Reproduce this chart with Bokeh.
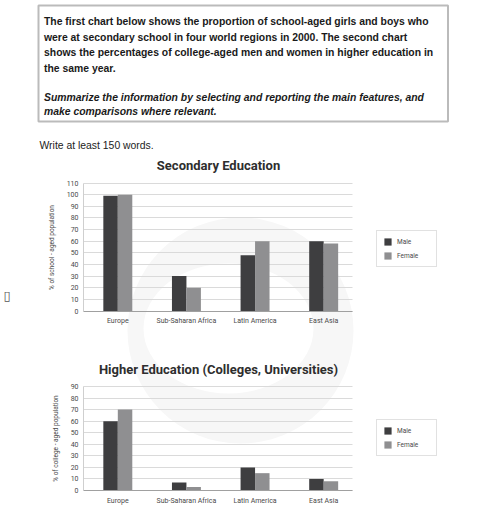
from bokeh.plotting import figure
from bokeh.models import (Range1d, FixedTicker, Label, Legend, LegendItem, BoxAnnotation,
                          LinearAxis, Grid, CustomJSTickFormatter)
from bokeh.embed import file_html
from bokeh.resources import INLINE

# ---------------- data ----------------
regions = ["Europe", "Sub-Saharan Africa", "Latin America", "East Asia"]
series_names = ["Male", "Female"]
sec_male = [99, 30, 48, 60]
sec_female = [100, 20, 60, 58]
high_male = [60, 7, 20, 10]
high_female = [70, 3, 15, 8]
sec_ticks = [0, 10, 20, 30, 40, 50, 60, 70, 80, 90, 100, 110]
high_ticks = [0, 10, 20, 30, 40, 50, 60, 70, 80, 90]

header_lines = [
    "The first chart below shows the proportion of school-aged girls and boys who",
    "were at secondary school in four world regions in 2000. The second chart",
    "shows the percentages of college-aged men and women in higher education in",
    "the same year.",
]
italic_lines = [
    "Summarize the information by selecting and reporting the main features, and",
    "make comparisons where relevant.",
]
write_note = "Write at least 150 words."

# ---------------- style / layout (picture pixel coordinates) ----------------
MALE = "#3e3e40"
FEMALE = "#8f8f91"
TXT = "#4a4a4a"
CH_FONT = "Roboto"
W, H = 480, 510
PX0, PY0 = 0, 0                     # picture offset of the canvas
FRAME_L, FRAME_R = 83, 352          # chart plot area (picture x)
X_END = 3.92                        # category units across the plot area
BAR_W = 0.211

p = figure(width=W, height=H, x_range=Range1d(PX0, PX0 + W), y_range=Range1d(PY0 + H, PY0),
           output_backend="svg", toolbar_location=None, min_border=0,
           x_axis_location=None, y_axis_location=None)
p.grid.visible = False
p.outline_line_color = None
p.background_fill_color = "white"

# category x-range shared by both charts
ux = (FRAME_R - FRAME_L) / X_END
p.extra_x_ranges = {"cx": Range1d((PX0 - FRAME_L) / ux, (PX0 + W - FRAME_L) / ux)}

# ---------------- header ----------------
p.add_layout(BoxAnnotation(left=38, right=447.5, top=5, bottom=121,
                           fill_color=None, fill_alpha=0, line_color="#1f1f1f", line_width=2))
for i, t in enumerate(header_lines):
    p.add_layout(Label(x=43.5, y=20.7 + 15.8 * i, text=t, text_baseline="alphabetic",
                       text_font="Liberation Sans", text_font_style="bold",
                       text_font_size="10.4px", text_color="#1a1a1a"))
for i, t in enumerate(italic_lines):
    p.add_layout(Label(x=43.5, y=96.5 + 14.8 * i, text=t, text_baseline="alphabetic",
                       text_font="Liberation Sans", text_font_style="bold italic",
                       text_font_size="10.4px", text_color="#1a1a1a"))
p.add_layout(Label(x=39, y=144.5, text=write_note, text_baseline="alphabetic",
                   text_font="Liberation Sans", text_font_size="10.4px", text_color="#222222"))
p.add_layout(Label(x=3, y=295, text="\u25af", text_baseline="alphabetic",
                   text_font="DejaVu Sans", text_font_size="13px", text_color="#555555"))

# ---------------- watermark (faint decoration) ----------------
p.circle(x=[240], y=[330], radius=113, radius_units="screen", fill_color="#f7f7f7",
         line_color=None, level="image")
p.ellipse(x=[228], y=[328], width=170, height=130, width_units="screen", height_units="screen",
          fill_color="white", line_color=None, level="image")

has_cross = "cross_bounds" in Grid.properties()


def add_chart(name, title, title_y, ylabel, male, female, ticks, ymax, zero_y, top_y, legend_bottom):
    uy = (zero_y - top_y) / ymax
    p.extra_y_ranges[name] = Range1d(-(PY0 + H - zero_y) / uy, (zero_y - PY0) / uy)

    # grid
    if has_cross:
        p.add_layout(Grid(dimension=1, ticker=FixedTicker(ticks=ticks), x_range_name="cx",
                          y_range_name=name, cross_bounds=(0, X_END),
                          grid_line_color="#dadada"))
    else:
        p.segment(x0=[0] * len(ticks), x1=[X_END] * len(ticks), y0=ticks, y1=ticks,
                  x_range_name="cx", y_range_name=name, line_color="#dadada", level="underlay")

    centers = [i + 0.5 for i in range(len(regions))]
    rm = p.vbar(x=[c - BAR_W / 2 for c in centers], top=male, width=BAR_W, fill_color=MALE,
                line_color=None, x_range_name="cx", y_range_name=name)
    rf = p.vbar(x=[c + BAR_W / 2 for c in centers], top=female, width=BAR_W, fill_color=FEMALE,
                line_color=None, x_range_name="cx", y_range_name=name)

    ya = LinearAxis(x_range_name="cx", y_range_name=name, fixed_location=0, bounds=(0, ymax),
                    ticker=FixedTicker(ticks=ticks), axis_label=ylabel)
    ya.major_tick_line_color = None
    ya.minor_tick_line_color = None
    ya.major_tick_out = 0
    ya.major_tick_in = 0
    ya.axis_line_color = "#cfcfcf"
    ya.major_label_text_font = CH_FONT
    ya.major_label_text_font_size = "7px"
    ya.major_label_text_color = TXT
    ya.major_label_standoff = 5
    ya.axis_label_text_font = CH_FONT
    ya.axis_label_text_font_style = "normal"
    ya.axis_label_text_font_size = "6.5px"
    ya.axis_label_text_color = TXT
    ya.axis_label_standoff = 8
    p.add_layout(ya, "left")

    xa = LinearAxis(x_range_name="cx", y_range_name=name, fixed_location=0, bounds=(0, X_END),
                    ticker=FixedTicker(ticks=centers),
                    formatter=CustomJSTickFormatter(
                        args=dict(labels=regions),
                        code="const i = Math.floor(tick); return (i >= 0 && i < labels.length) ? labels[i] : '';"))
    xa.major_tick_line_color = None
    xa.minor_tick_line_color = None
    xa.major_tick_out = 0
    xa.major_tick_in = 0
    xa.axis_line_color = "#a0a0a0"
    xa.major_label_text_font = CH_FONT
    xa.major_label_text_font_size = "7px"
    xa.major_label_text_color = TXT
    xa.major_label_standoff = 6
    p.add_layout(xa, "below")

    p.add_layout(Label(x=218, y=title_y, text=title, text_align="center",
                       text_baseline="alphabetic", text_font=CH_FONT, text_font_style="bold",
                       text_font_size="13px", text_color="#2e2e2e"))

    legend = Legend(items=[LegendItem(label=series_names[0], renderers=[rm]),
                           LegendItem(label=series_names[1], renderers=[rf])],
                    location=(376 - PX0, PY0 + H - legend_bottom), orientation="vertical",
                    glyph_width=9, glyph_height=9, label_height=9, label_width=33,
                    padding=6, spacing=5, margin=0, label_standoff=5,
                    label_text_font=CH_FONT, label_text_font_size="6.5px",
                    label_text_color=TXT, border_line_color="#c4c4c4", border_line_width=1,
                    background_fill_color="white", background_fill_alpha=1)
    p.add_layout(legend, "center")


p.extra_y_ranges = {}
add_chart("s1", "Secondary Education", 165, "% of school - aged population",
          sec_male, sec_female, sec_ticks, 110, 310.5, 182.5, 267)
add_chart("s2", "Higher Education (Colleges, Universities)", 369, "% of college - aged population",
          high_male, high_female, high_ticks, 90, 490, 386, 456)

open("out.html", "w").write(file_html(p, INLINE))
